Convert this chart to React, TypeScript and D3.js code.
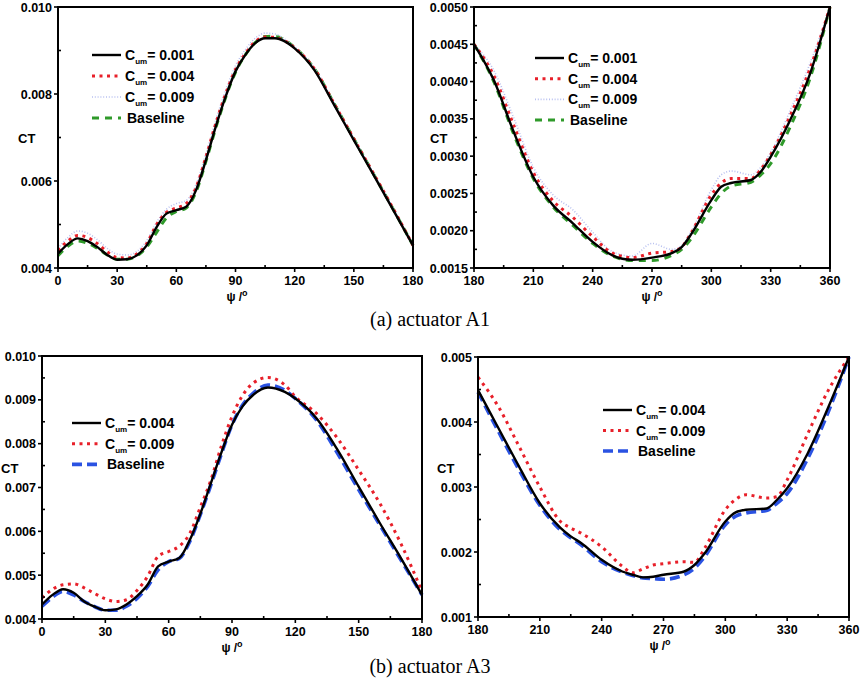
import { scaleLinear, line as d3Line, curveMonotoneX, range } from "d3";

// ---- data ----
// (a) actuator A1, 0-180 deg
const anglesA1L = [0, 5, 10, 15, 20, 25, 30, 35, 40, 45, 50, 55, 60, 65, 70, 75, 80, 85, 90, 95, 100, 105, 110, 115, 120, 130, 140, 150, 160, 170, 180];
const a1L_c001 = [0.00433, 0.00455, 0.00468, 0.00462, 0.00448, 0.0043, 0.00419, 0.0042, 0.00429, 0.00452, 0.00494, 0.00525, 0.00533, 0.00541, 0.00579, 0.00648, 0.00725, 0.00794, 0.00852, 0.0089, 0.00917, 0.00928, 0.00928, 0.00921, 0.00905, 0.00855, 0.00775, 0.00694, 0.00614, 0.00533, 0.00452];
const a1L_c004 = [0.0044, 0.00462, 0.00475, 0.0047, 0.00456, 0.00437, 0.00424, 0.00423, 0.00432, 0.00456, 0.005, 0.00528, 0.00538, 0.00548, 0.00585, 0.00655, 0.00732, 0.008, 0.00856, 0.00893, 0.0092, 0.00931, 0.0093, 0.00922, 0.00906, 0.00858, 0.00778, 0.00697, 0.00617, 0.00536, 0.00452];
const a1L_c009 = [0.00445, 0.0047, 0.00485, 0.0048, 0.00465, 0.00445, 0.00432, 0.0043, 0.00438, 0.00463, 0.00505, 0.00535, 0.00548, 0.00555, 0.00592, 0.00662, 0.0074, 0.00808, 0.00865, 0.00902, 0.00928, 0.0094, 0.00938, 0.00926, 0.00908, 0.0086, 0.0078, 0.00698, 0.00618, 0.00537, 0.00452];
const a1L_base = [0.00428, 0.0045, 0.00462, 0.00457, 0.00445, 0.0043, 0.0042, 0.0042, 0.00428, 0.00448, 0.00482, 0.00515, 0.0053, 0.00538, 0.00575, 0.00645, 0.00722, 0.00792, 0.0085, 0.0089, 0.00918, 0.00932, 0.00933, 0.00924, 0.00907, 0.00858, 0.00778, 0.00697, 0.00616, 0.00535, 0.00452];

// (a) actuator A1, 180-360 deg
const anglesA1R = [180, 190, 200, 210, 220, 230, 240, 250, 260, 270, 280, 285, 290, 300, 305, 310, 320, 325, 330, 340, 350, 360];
const a1R_c001 = [0.0045, 0.00402, 0.00333, 0.00272, 0.00234, 0.0021, 0.00185, 0.00167, 0.00161, 0.00164, 0.0017, 0.00178, 0.00196, 0.00241, 0.00259, 0.00264, 0.00268, 0.00279, 0.00299, 0.00349, 0.00411, 0.005];
const a1R_c004 = [0.0045, 0.00408, 0.00342, 0.00278, 0.0024, 0.00218, 0.00192, 0.0017, 0.00164, 0.0017, 0.00172, 0.00178, 0.00198, 0.00248, 0.00264, 0.0027, 0.0027, 0.00282, 0.00302, 0.00355, 0.00418, 0.005];
const a1R_c009 = [0.0045, 0.00415, 0.00352, 0.00285, 0.00248, 0.00228, 0.00198, 0.00172, 0.00166, 0.00183, 0.00175, 0.0018, 0.002, 0.00255, 0.00275, 0.0028, 0.00275, 0.00285, 0.00305, 0.00362, 0.00425, 0.005];
const a1R_base = [0.0045, 0.004, 0.0033, 0.0027, 0.00232, 0.00207, 0.00183, 0.00166, 0.0016, 0.0016, 0.00167, 0.00175, 0.0019, 0.00232, 0.0025, 0.0026, 0.00265, 0.00275, 0.0029, 0.0034, 0.00405, 0.005];

// (b) actuator A3, 0-180 deg
const anglesA3L = [0, 5, 10, 15, 20, 25, 30, 35, 40, 45, 50, 55, 60, 65, 70, 75, 80, 85, 90, 95, 100, 107, 115, 120, 130, 140, 150, 160, 170, 180];
const a3L_c004 = [0.00433, 0.00455, 0.00468, 0.0046, 0.0044, 0.00428, 0.0042, 0.00422, 0.00433, 0.00452, 0.00478, 0.0052, 0.00531, 0.00539, 0.0058, 0.0064, 0.0071, 0.0078, 0.00843, 0.00885, 0.00911, 0.00928, 0.00918, 0.00903, 0.00858, 0.00786, 0.00702, 0.00619, 0.00539, 0.00455];
const a3L_c009 = [0.00448, 0.00468, 0.00478, 0.0048, 0.00471, 0.00458, 0.00446, 0.0044, 0.00444, 0.00465, 0.00497, 0.00543, 0.00554, 0.00566, 0.00595, 0.00655, 0.00717, 0.00795, 0.00862, 0.0091, 0.00938, 0.00951, 0.00934, 0.00907, 0.00869, 0.00812, 0.0074, 0.00664, 0.00572, 0.00463];
const a3L_base = [0.00429, 0.0045, 0.00463, 0.00455, 0.0044, 0.00428, 0.0042, 0.0042, 0.00429, 0.00447, 0.00474, 0.00512, 0.00531, 0.00538, 0.00577, 0.00638, 0.00706, 0.00777, 0.00843, 0.00888, 0.00915, 0.00934, 0.00922, 0.00903, 0.00854, 0.00778, 0.00695, 0.00615, 0.00535, 0.00455];

// (b) actuator A3, 180-360 deg
const anglesA3R = [180, 190, 200, 210, 220, 225, 230, 240, 250, 255, 260, 265, 270, 280, 285, 290, 300, 305, 310, 320, 325, 330, 340, 350, 360];
const a3R_c004 = [0.00449, 0.0039, 0.00331, 0.00275, 0.00237, 0.00224, 0.00214, 0.00188, 0.0017, 0.00165, 0.00161, 0.00162, 0.00165, 0.0017, 0.0018, 0.00198, 0.00247, 0.00261, 0.00265, 0.00267, 0.0028, 0.00298, 0.00352, 0.00423, 0.005];
const a3R_c009 = [0.00469, 0.00423, 0.00362, 0.003, 0.00247, 0.00237, 0.00229, 0.00208, 0.00178, 0.00168, 0.00174, 0.0018, 0.00182, 0.00185, 0.00184, 0.00206, 0.00265, 0.00281, 0.00288, 0.00283, 0.00285, 0.00311, 0.00382, 0.00449, 0.005];
const a3R_base = [0.00446, 0.00385, 0.00326, 0.00272, 0.00234, 0.00222, 0.00211, 0.00185, 0.00169, 0.00164, 0.0016, 0.00159, 0.00158, 0.00165, 0.00175, 0.00193, 0.00242, 0.00255, 0.0026, 0.00264, 0.00275, 0.0029, 0.00344, 0.00416, 0.005];

const captions = ["(a) actuator A1", "(b) actuator A3"];

// ---- styles ----
const FONT = "'Liberation Sans', Arial, sans-serif";
const SERIF = "'Liberation Serif', 'Times New Roman', serif";
const STYLES: Record<string, { stroke: string; width: number; dash?: string }> = {
  black: { stroke: "#000", width: 2.4 },
  red: { stroke: "#e8202a", width: 3, dash: "3 4.5" },
  light: { stroke: "#b8c0f0", width: 1.6, dash: "1 1.8" },
  green: { stroke: "#2f9a2a", width: 3, dash: "7 6" },
  blue: { stroke: "#2a52e2", width: 3.6, dash: "10 5" },
};

interface Series {
  label: string;
  sub: boolean;
  values: number[];
  style: string;
}

interface PanelDef {
  box: { left: number; right: number; top: number; bottom: number };
  xDomain: [number, number];
  yDomain: [number, number];
  yMajor: number;
  yFormat: number;
  angles: number[];
  series: Series[];
  legend: { x: number; y: number; gap: number };
  ctPos: [number, number];
  xlabelX: number;
}

const panels: PanelDef[] = [
  {
    box: { left: 58, right: 413, top: 7, bottom: 268 },
    xDomain: [0, 180],
    yDomain: [0.004, 0.01],
    yMajor: 0.002,
    yFormat: 3,
    angles: anglesA1L,
    series: [
      { label: "= 0.001", sub: true, values: a1L_c001, style: "black" },
      { label: "= 0.004", sub: true, values: a1L_c004, style: "red" },
      { label: "= 0.009", sub: true, values: a1L_c009, style: "light" },
      { label: "Baseline", sub: false, values: a1L_base, style: "green" },
    ],
    legend: { x: 92, y: 55, gap: 21 },
    ctPos: [18, 143],
    xlabelX: 237,
  },
  {
    box: { left: 474, right: 830, top: 7, bottom: 268 },
    xDomain: [180, 360],
    yDomain: [0.0015, 0.005],
    yMajor: 0.0005,
    yFormat: 4,
    angles: anglesA1R,
    series: [
      { label: "= 0.001", sub: true, values: a1R_c001, style: "black" },
      { label: "= 0.004", sub: true, values: a1R_c004, style: "red" },
      { label: "= 0.009", sub: true, values: a1R_c009, style: "light" },
      { label: "Baseline", sub: false, values: a1R_base, style: "green" },
    ],
    legend: { x: 535, y: 58, gap: 20.7 },
    ctPos: [430, 143],
    xlabelX: 652,
  },
  {
    box: { left: 42, right: 422, top: 356, bottom: 619 },
    xDomain: [0, 180],
    yDomain: [0.004, 0.01],
    yMajor: 0.001,
    yFormat: 3,
    angles: anglesA3L,
    series: [
      { label: "= 0.004", sub: true, values: a3L_c004, style: "black" },
      { label: "= 0.009", sub: true, values: a3L_c009, style: "red" },
      { label: "Baseline", sub: false, values: a3L_base, style: "blue" },
    ],
    legend: { x: 72, y: 423, gap: 20.7 },
    ctPos: [1, 473],
    xlabelX: 232,
  },
  {
    box: { left: 478, right: 849, top: 357, bottom: 617 },
    xDomain: [180, 360],
    yDomain: [0.001, 0.005],
    yMajor: 0.001,
    yFormat: 3,
    angles: anglesA3R,
    series: [
      { label: "= 0.004", sub: true, values: a3R_c004, style: "black" },
      { label: "= 0.009", sub: true, values: a3R_c009, style: "red" },
      { label: "Baseline", sub: false, values: a3R_base, style: "blue" },
    ],
    legend: { x: 603, y: 410, gap: 20.5 },
    ctPos: [437, 473],
    xlabelX: 660,
  },
];

const Panel = ({ p }: { p: PanelDef }) => {
  const { left, right, top, bottom } = p.box;
  const x = scaleLinear().domain(p.xDomain).range([left, right]);
  const y = scaleLinear().domain(p.yDomain).range([bottom, top]);

  // major ticks every 30 deg, minor at 15
  const xMajor = range(p.xDomain[0], p.xDomain[1] + 0.1, 30);
  const xMinor = range(p.xDomain[0] + 15, p.xDomain[1], 30);
  const nMajor = Math.round((p.yDomain[1] - p.yDomain[0]) / p.yMajor);
  const yMajor = range(0, nMajor + 1).map((i) => p.yDomain[0] + i * p.yMajor);
  const yMinor = range(0, nMajor).map((i) => p.yDomain[0] + (i + 0.5) * p.yMajor);

  const gen = d3Line<number>()
    .x((_, i) => x(p.angles[i]))
    .y((d) => y(d))
    .curve(curveMonotoneX);

  return (
    <g>
      {/* curves */}
      {p.series
        .slice()
        .reverse()
        .map((s, i) => {
          const st = STYLES[s.style];
          return (
            <path
              key={i}
              d={gen(s.values) || ""}
              fill="none"
              stroke={st.stroke}
              strokeWidth={st.width}
              strokeDasharray={st.dash}
              strokeLinejoin="round"
            />
          );
        })}

      {/* frame */}
      <rect x={left} y={top} width={right - left} height={bottom - top} fill="none" stroke="#000" strokeWidth={2} />

      {/* x ticks */}
      {xMajor.map((v) => (
        <g key={"xm" + v}>
          <line x1={x(v)} x2={x(v)} y1={bottom} y2={bottom + 4} stroke="#000" strokeWidth={1.6} />
          <text x={x(v)} y={bottom + 17} textAnchor="middle" fontFamily={FONT} fontWeight="bold" fontSize={12.5}>
            {v}
          </text>
        </g>
      ))}
      {xMinor.map((v) => (
        <line key={"xn" + v} x1={x(v)} x2={x(v)} y1={bottom} y2={bottom - 3} stroke="#000" strokeWidth={1.6} />
      ))}

      {/* y ticks */}
      {yMajor.map((v) => (
        <g key={"ym" + v}>
          <line x1={left - 4} x2={left} y1={y(v)} y2={y(v)} stroke="#000" strokeWidth={1.6} />
          <text x={left - 6} y={y(v) + 4.5} textAnchor="end" fontFamily={FONT} fontWeight="bold" fontSize={12.5}>
            {v.toFixed(p.yFormat)}
          </text>
        </g>
      ))}
      {yMinor.map((v) => (
        <line key={"yn" + v} x1={left} x2={left + 3} y1={y(v)} y2={y(v)} stroke="#000" strokeWidth={1.6} />
      ))}

      {/* axis titles */}
      <text x={p.ctPos[0]} y={p.ctPos[1]} fontFamily={FONT} fontWeight="bold" fontSize={13}>
        CT
      </text>
      <text x={p.xlabelX} y={bottom + 33} textAnchor="middle" fontFamily={FONT} fontWeight="bold" fontSize={12}>
        ψ /<tspan dy={-5} fontSize={9}>o</tspan>
      </text>

      {/* legend */}
      {p.series.map((s, i) => {
        const st = STYLES[s.style];
        const ly = p.legend.y + i * p.legend.gap;
        const tx = p.legend.x + 33;
        return (
          <g key={"lg" + i}>
            <line
              x1={p.legend.x}
              x2={p.legend.x + 29}
              y1={ly}
              y2={ly}
              stroke={st.stroke}
              strokeWidth={st.width}
              strokeDasharray={st.dash}
            />
            {s.sub ? (
              <text x={tx} y={ly + 5} fontFamily={FONT} fontWeight="bold" fontSize={14}>
                C
                <tspan dy={4} fontSize={8}>
                  um
                </tspan>
                <tspan dy={-4}>{s.label}</tspan>
              </text>
            ) : (
              <text x={tx + 2} y={ly + 5} fontFamily={FONT} fontWeight="bold" fontSize={14}>
                {s.label}
              </text>
            )}
          </g>
        );
      })}
    </g>
  );
};

export default function App() {
  return (
    <svg
      width={861}
      height={678}
      style={{ position: "absolute", left: 0, top: 0, background: "#fff" }}
    >
      {panels.map((p, i) => (
        <Panel key={i} p={p} />
      ))}
      <text x={430} y={326} textAnchor="middle" fontFamily={SERIF} fontSize={20}>
        {captions[0]}
      </text>
      <text x={430} y={673} textAnchor="middle" fontFamily={SERIF} fontSize={20}>
        {captions[1]}
      </text>
    </svg>
  );
}
